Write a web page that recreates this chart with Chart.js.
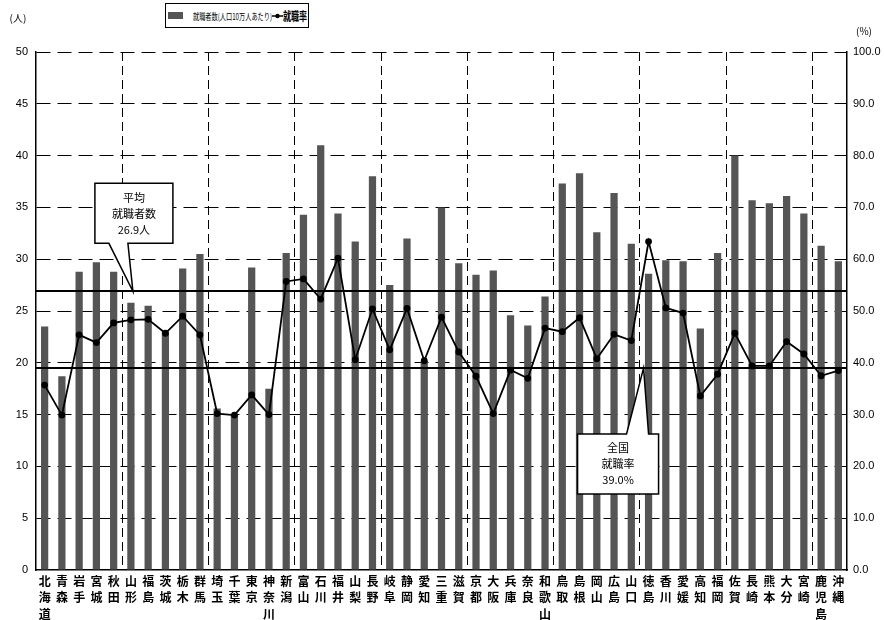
<!DOCTYPE html>
<html>
<head>
<meta charset="utf-8">
<script src="https://cdn.jsdelivr.net/npm/chart.js@4.4.0/dist/chart.umd.min.js"></script>
<style>
  body { margin: 0; background: #fff; }
  #wrap { position: relative; width: 884px; height: 620px; }
  #legend {
    position: absolute; left: 165px; top: 3px; width: 142px; height: 23px;
    border: 1px solid #000; background: #fff;
    font-family: "Noto Sans CJK JP", sans-serif; color: #000; white-space: nowrap;
  }
  #legend > * { position: absolute; }
  #legend .sw { left: 2px; top: 8px; width: 15px; height: 7px; background: #555; }
  #legend .fit { top: 50%; transform-origin: 0 50%; line-height: 1; }
  #legend .t1 { left: 27px; font-size: 9px; }
  #legend .t2 { left: 117px; font-size: 12px; font-weight: bold; }
  #legend svg { left: 106px; top: 7px; }
</style>
</head>
<body>
<div id="wrap">
  <canvas id="jobChart" width="884" height="620"></canvas>
  <div id="legend">
    <span class="sw"></span>
    <span class="fit t1" data-w="79">就職者数(人口10万人あたり)</span>
    <svg width="11" height="10"><line x1="0" y1="5" x2="11" y2="5" stroke="#000" stroke-width="1.5"/><circle cx="5.5" cy="5" r="2.2" fill="#000"/></svg>
    <span class="fit t2" data-w="24">就職率</span>
  </div>
</div>
<script>
// 都道府県
var prefs = ['北海道','青森','岩手','宮城','秋田','山形','福島','茨城','栃木','群馬',
  '埼玉','千葉','東京','神奈川','新潟','富山','石川','福井','山梨','長野',
  '岐阜','静岡','愛知','三重','滋賀','京都','大阪','兵庫','奈良','和歌山',
  '鳥取','島根','岡山','広島','山口','徳島','香川','愛媛','高知','福岡',
  '佐賀','長崎','熊本','大分','宮崎','鹿児島','沖縄'];

// 就職者数（人口10万人あたり, 人）
var jobCount = [23.5,18.7,28.8,29.7,28.8,25.8,25.5,23.0,29.1,30.5,
  15.6,15.0,29.2,17.5,30.6,34.3,41.0,34.4,31.7,38.0,
  27.5,32.0,20.2,35.0,29.6,28.5,28.9,24.6,23.6,26.4,
  37.3,38.3,32.6,36.4,31.5,28.6,29.9,29.8,23.3,30.6,
  40.0,35.7,35.4,36.1,34.4,31.3,29.8];

// 就職率 (%)
var jobRate = [35.7,29.9,45.4,43.9,47.7,48.3,48.4,45.7,49.0,45.4,
  30.2,29.9,33.8,30.0,55.7,56.2,52.3,60.2,40.6,50.4,
  42.5,50.5,40.4,48.8,42.1,37.4,30.2,38.6,37.0,46.7,
  46.0,48.7,40.8,45.5,44.3,63.4,50.6,49.6,33.6,37.8,
  45.7,39.4,39.4,44.1,41.7,37.5,38.5];

var avgCount = 26.9;     // 平均就職者数
var nationalRate = 39.0; // 全国就職率

var countTicks = [0, 50, 5];
var rateTicks = [0, 100, 10];

var BLACK = '#000';
var numFont = { family: 'Liberation Sans', size: 11 };

// 凡例の文字を横に縮めて枠に収める
document.querySelectorAll('#legend .fit').forEach(function(el) {
  var k = Number(el.dataset.w) / el.offsetWidth;
  el.style.transform = 'translateY(-50%) scaleX(' + k + ')';
});

// 吹き出し
function callout(ctx, tip, box, base, lines) {
  ctx.beginPath();
  ctx.moveTo(box.l, box.t);
  if (base.side === 'top') {
    ctx.lineTo(base.x1, box.t); ctx.lineTo(tip.x, tip.y); ctx.lineTo(base.x2, box.t);
  }
  ctx.lineTo(box.r, box.t);
  ctx.lineTo(box.r, box.b);
  if (base.side === 'bottom') {
    ctx.lineTo(base.x2, box.b); ctx.lineTo(tip.x, tip.y); ctx.lineTo(base.x1, box.b);
  }
  ctx.lineTo(box.l, box.b);
  ctx.closePath();
  ctx.fillStyle = '#fff'; ctx.fill();
  ctx.lineWidth = 1.5; ctx.strokeStyle = BLACK; ctx.stroke();
  ctx.fillStyle = BLACK;
  ctx.font = '11px "Noto Sans CJK JP"';
  ctx.textAlign = 'center'; ctx.textBaseline = 'middle';
  var cx = (box.l + box.r) / 2, cy = (box.t + box.b) / 2;
  lines.forEach(function(s, i) { ctx.fillText(s, cx, cy + (i - 1) * 16); });
}

var extras = {
  id: 'extras',
  beforeDatasetDraw: function(chart, args) {
    if (args.index !== 0) return;
    var ctx = chart.ctx, a = chart.chartArea;
    ctx.save();
    ctx.strokeStyle = BLACK; ctx.lineWidth = 2;
    [[chart.scales.y, avgCount], [chart.scales.y2, nationalRate]].forEach(function(p) {
      var py = Math.round(p[0].getPixelForValue(p[1]));
      ctx.beginPath(); ctx.moveTo(a.left, py); ctx.lineTo(a.right, py); ctx.stroke();
    });
    ctx.restore();
  },
  afterDatasetsDraw: function(chart) {
    var ctx = chart.ctx, x = chart.scales.x;
    ctx.save();
    var t1 = { x: x.getPixelForValue(5) + 2, y: chart.scales.y.getPixelForValue(avgCount) };
    callout(ctx, t1, { l: t1.x - 38, r: t1.x + 40, t: t1.y - 108, b: t1.y - 48 },
      { side: 'bottom', x1: t1.x - 24, x2: t1.x - 5 }, ['平均', '就職者数', avgCount.toFixed(1) + '人']);
    var t2 = { x: x.getPixelForValue(35) - 5, y: chart.scales.y2.getPixelForValue(nationalRate) };
    callout(ctx, t2, { l: t2.x - 66, r: t2.x + 15, t: t2.y + 66, b: t2.y + 126 },
      { side: 'top', x1: t2.x - 17, x2: t2.x + 5 }, ['全国', '就職率', nationalRate.toFixed(1) + '%']);
    ctx.restore();
  },
  afterDraw: function(chart) {
    var ctx = chart.ctx, a = chart.chartArea;
    ctx.save();
    ctx.fillStyle = BLACK;
    ctx.font = '10px "Noto Sans CJK JP"';
    ctx.textBaseline = 'middle'; ctx.textAlign = 'center';
    ctx.fillText('(人)', a.left - 18, a.top - 34);
    ctx.fillText('(%)', a.right + 17, a.top - 21);
    ctx.restore();
  }
};

new Chart(document.getElementById('jobChart'), {
  type: 'bar',
  data: {
    labels: prefs.map(function(p) { return p.split(''); }),
    datasets: [{
      type: 'line',
      label: '就職率',
      data: jobRate,
      yAxisID: 'y2',
      borderColor: BLACK,
      backgroundColor: BLACK,
      borderWidth: 1.8,
      pointRadius: 2.5,
      pointBackgroundColor: BLACK,
      tension: 0,
      order: 0
    }, {
      label: '就職者数(人口10万人あたり)',
      data: jobCount,
      yAxisID: 'y',
      backgroundColor: '#555555',
      categoryPercentage: 1.0,
      barPercentage: 0.42,
      order: 1
    }]
  },
  plugins: [extras],
  options: {
    responsive: false,
    animation: false,
    layout: { padding: { top: 52, left: 0, right: 0, bottom: 0 } },
    plugins: { legend: { display: false }, tooltip: { enabled: false } },
    scales: {
      x: {
        offset: true,
        afterFit: function(s) { s.height = 50; },
        grid: {
          drawTicks: false,
          lineWidth: 1,
          color: function(c) { return (c.index > 0 && c.index % 5 === 0) ? BLACK : 'rgba(0,0,0,0)'; }
        },
        border: { display: true, color: BLACK, width: 1.5, dash: [9, 5] },
        ticks: {
          autoSkip: false, maxRotation: 0, padding: 3, color: BLACK,
          font: { family: 'Noto Sans CJK JP', size: 12, weight: 'bold', lineHeight: 1.38 }
        }
      },
      y: {
        position: 'left',
        min: countTicks[0], max: countTicks[1],
        afterFit: function(s) { s.width = 36; },
        ticks: { stepSize: countTicks[2], padding: 8, color: BLACK, font: numFont },
        grid: {
          drawTicks: false,
          color: function(c) { return c.tick && c.tick.value > 0 ? BLACK : 'rgba(0,0,0,0)'; }
        },
        border: { display: true, color: BLACK, width: 1.5, dash: [14, 7] }
      },
      y2: {
        position: 'right',
        min: rateTicks[0], max: rateTicks[1],
        afterFit: function(s) { s.width = 37; },
        ticks: {
          stepSize: rateTicks[2], padding: 6, color: BLACK, font: numFont,
          callback: function(v) { return v.toFixed(1); }
        },
        grid: { drawOnChartArea: false, drawTicks: false },
        border: { display: true, color: BLACK, width: 1.5 }
      }
    }
  }
});
</script>
</body>
</html>
